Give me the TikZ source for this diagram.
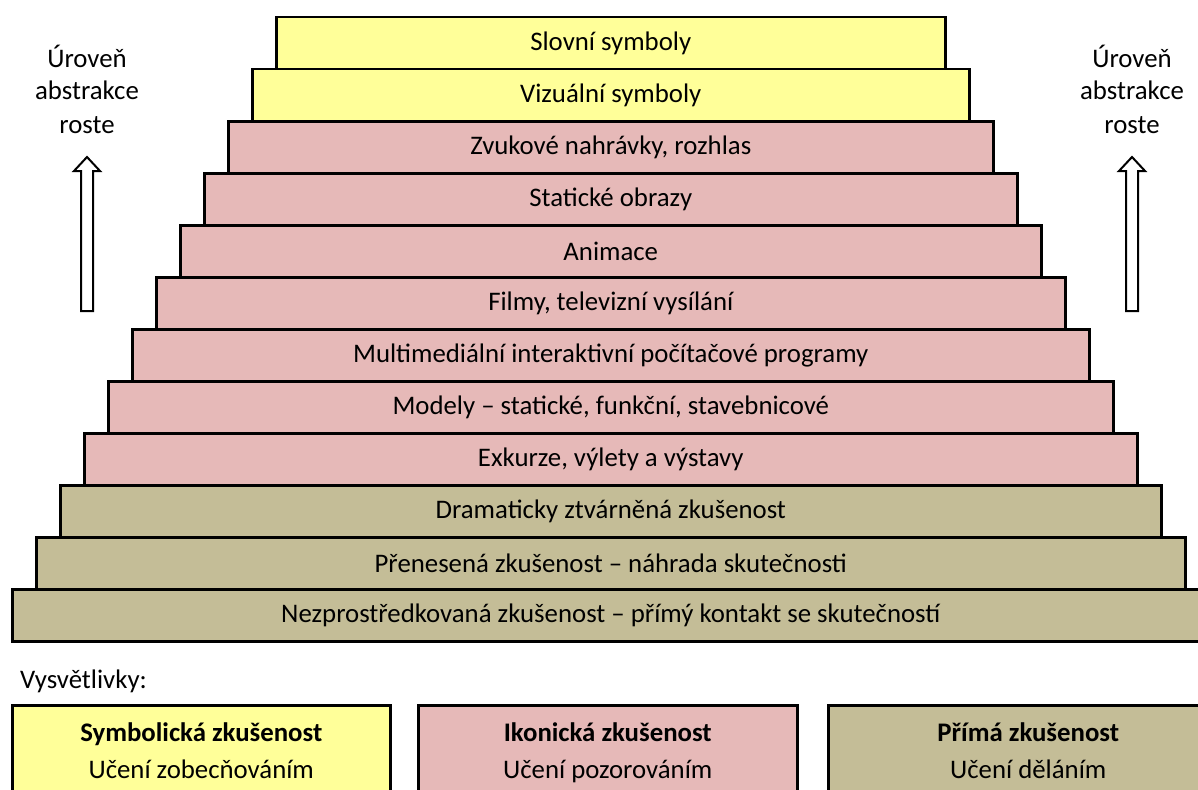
\documentclass[tikz,border=0pt]{standalone}
\usepackage{fontspec}
\setmainfont{Carlito}
\usetikzlibrary{calc, positioning}
\definecolor{symcol}{RGB}{255, 255, 153}
\definecolor{ikocol}{RGB}{230, 185, 184}
\definecolor{dircol}{RGB}{196, 189, 151}
\definecolor{linecol}{RGB}{0, 0, 0}
\tikzset{
  stair/.style = {draw=linecol, line width=2.5pt, minimum height=52pt,
                  inner sep=0pt, anchor=north west,
                  font=\fontsize{26.8}{32}\selectfont},
  sym/.style   = {stair, fill=symcol},
  iko/.style   = {stair, fill=ikocol},
  dir/.style   = {stair, fill=dircol},
  lvl/.style   = {align=center, inner sep=0pt,
                  font=\fontsize{26.8}{33}\selectfont},
  % the two arrows are hollow block arrows, not line tips
  hollow/.style = {draw=linecol, fill=white, line width=2pt,
                   line join=miter},
  keybox/.style = {draw=linecol, line width=2.5pt, minimum height=110pt,
                   anchor=north west, inner sep=0pt},
  keytxt/.style = {anchor=base, inner sep=0pt,
                   font=\fontsize{26.8}{32}\selectfont},
}

\begin{document}
\begin{tikzpicture}[x=1pt, y=-1pt]
  \useasboundingbox (0,0) rectangle (1198,789);

  %% ---------------- the stairs ----------------
  \foreach \i/\st/\txt in {
      0/sym/{Slovní symboly},
      1/sym/{Vizuální symboly},
      2/iko/{Zvukové nahrávky, rozhlas},
      3/iko/{Statické obrazy},
      4/iko/{Animace},
      5/iko/{Filmy, televizní vysílání},
      6/iko/{Multimediální interaktivní počítačové programy},
      7/iko/{Modely – statické, funkční, stavebnicové},
      8/iko/{Exkurze, výlety a výstavy},
      9/dir/{Dramaticky ztvárněná zkušenost},
      10/dir/{Přenesená zkušenost – náhrada skutečnosti},
      11/dir/{Nezprostředkovaná zkušenost – přímý kontakt se skutečností}} {
    \node[\st, minimum width={669+48*\i}] (t\i)
         at ({275-24*\i},{16+52*\i}) {\txt};
  }

  %% ---------------- abstraction grows ----------------
  % base of a multi-line node is the base of its last line
  \node[lvl, anchor=base] (lvlL) at (87,133)   {Úroveň\\abstrakce\\roste};
  \node[lvl, anchor=base] (lvlR) at (1132,133) {Úroveň\\abstrakce\\roste};

  \foreach \c in {87, 1132} {
    \draw[hollow] (\c-6,311) -- (\c-6,171) -- (\c-13,171) -- (\c,157)
                  -- (\c+13,171) -- (\c+6,171) -- (\c+6,311) -- cycle;
  }

  %% ---------------- legend ----------------
  \node[keytxt, anchor=base west] (keyhd) at (20,688) {Vysvětlivky:};

  \node[keybox, fill=symcol, minimum width=378pt] (k1) at (11,704)  {};
  \node[keybox, fill=ikocol, minimum width=379pt] (k2) at (417,704) {};
  \node[keybox, fill=dircol, minimum width=400pt] (k3) at (827,704) {};

  \foreach \k/\head/\sub in {k1/{Symbolická zkušenost}/{Učení zobecňováním},
                             k2/{Ikonická zkušenost}/{Učení pozorováním},
                             k3/{Přímá zkušenost}/{Učení děláním}} {
    \node[keytxt, font=\fontsize{26.8}{32}\selectfont\bfseries]
         at ($(\k.north)+(0,37)$) {\head};
    \node[keytxt] at ($(\k.north)+(0,74)$) {\sub};
  }
\end{tikzpicture}
\end{document}
